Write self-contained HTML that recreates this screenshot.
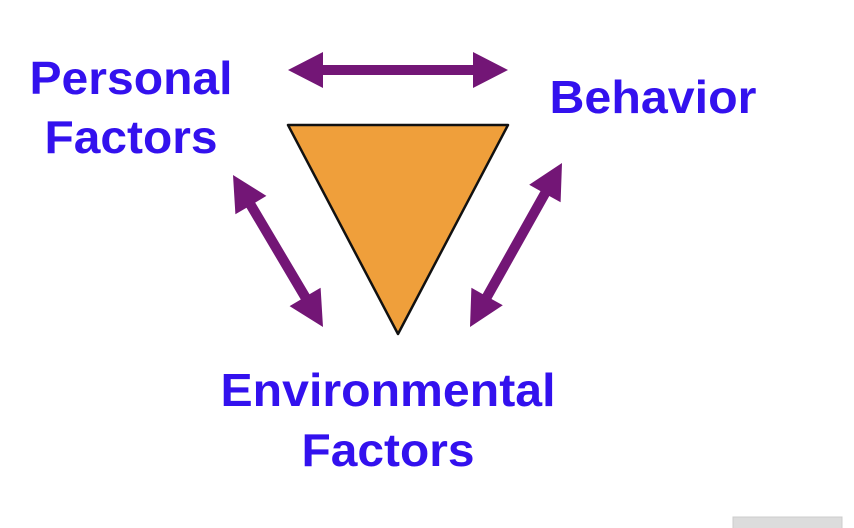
<!DOCTYPE html>
<html><head><meta charset="utf-8"><style>
html,body{margin:0;padding:0;background:#fff;width:854px;height:528px;overflow:hidden}
</style></head><body>
<svg width="854" height="528" viewBox="0 0 854 528" xmlns="http://www.w3.org/2000/svg">
<g fill="#731676">
<polygon points="288,70 323,52 323,65 473,65 473,52 508,70 473,88 473,75 323,75 323,88"/>
<polygon points="233,175 235.4,214.3 246.5,207.7 300.8,299.5 289.6,306.1 323,327 320.6,287.7 309.5,294.3 255.2,202.6 266.4,195.9"/>
<polygon points="562,163 560.6,202.3 549.3,196 491.5,299 502.8,305.3 470,327 471.4,287.7 482.7,294.1 540.5,191.1 529.2,184.7"/>
</g>
<polygon points="288,125 508,125 398,334" fill="#ef9f3b" stroke="#111" stroke-width="2.5" stroke-linejoin="round"/>
<g font-family="Liberation Sans, sans-serif" font-weight="bold" font-size="46" fill="#3311ee" text-anchor="middle">
<text x="131" y="94" textLength="203" lengthAdjust="spacingAndGlyphs">Personal</text>
<text x="131" y="153" textLength="173" lengthAdjust="spacingAndGlyphs">Factors</text>
<text x="653" y="113" textLength="207" lengthAdjust="spacingAndGlyphs">Behavior</text>
<text x="388" y="406" textLength="335" lengthAdjust="spacingAndGlyphs">Environmental</text>
<text x="388" y="466" textLength="173" lengthAdjust="spacingAndGlyphs">Factors</text>
</g>
<rect x="733" y="517" width="109" height="12" fill="#dcdcdc" stroke="#ccc" stroke-width="1"/>
</svg>
</body></html>
